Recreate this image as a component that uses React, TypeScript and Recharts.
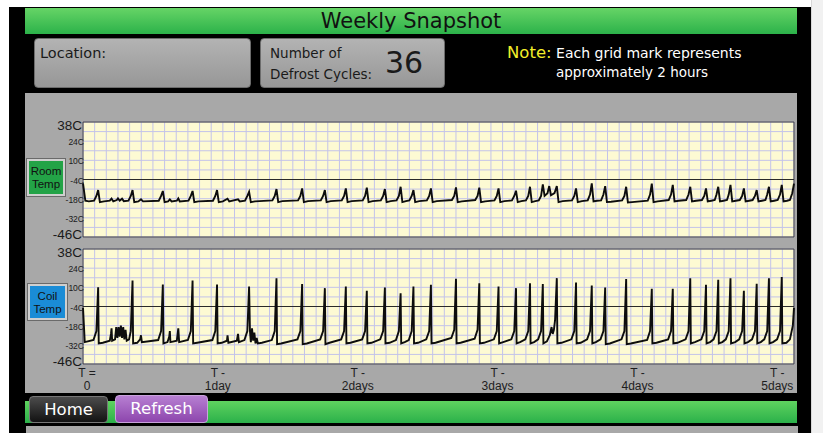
import { LineChart, Line, XAxis, YAxis, CartesianGrid, ReferenceLine, ReferenceArea } from "recharts"

// x = hours back from now (each grid mark is 2 hours), y = degrees C
const hourTicks = Array.from({ length: 62 }, (_, i) => i * 2)
const dayTicks = [0, 24, 48, 72, 96, 120]
const dayTop = ["T =", "T -", "T -", "T -", "T -", "T -"]
const dayLabels = ["0", "1day", "2days", "3days", "4days", "5days"]

const tempTicks = [38, 31, 24, 17, 10, 3, -4, -11, -18, -25, -32, -39, -46]
const tempLabels = [38, 24, 10, -4, -18, -32, -46]

const roomTrace: [number, number][] = [
  [0, -6.8], [0.4, -19.5], [1.0, -20],
  [1.9, -19.5], [2.3, -16], [2.6, -11.7], [2.9, -20.5], [3.6, -20],
  [4.6, -19.5], [4.9, -18], [5.2, -20],
  [5.8, -19], [6.0, -17.8], [6.3, -19.5], [6.7, -18], [7.0, -19.8],
  [7.8, -19.5], [8.2, -16], [8.5, -11.7], [8.8, -20.5], [9.5, -20],
  [9.95, -18.5], [10.3, -20],
  [13.0, -19.5], [13.4, -16], [13.7, -12.4], [14.0, -20.5], [14.6, -20],
  [14.9, -18.5], [15.2, -20],
  [16.1, -19.5], [16.35, -17.8], [16.6, -20],
  [18.1, -19.5], [18.5, -16], [18.8, -12.4], [19.1, -20.5], [19.8, -20],
  [22.3, -19.5], [22.7, -16], [23.0, -11.7], [23.3, -20.5], [24.0, -20],
  [24.8, -18], [25.1, -20],
  [26.6, -18.5], [26.9, -20],
  [27.8, -19.5], [28.2, -16], [28.5, -13], [28.8, -20.5], [29.5, -20],
  [32.5, -19.3], [32.9, -16], [33.2, -11], [33.5, -20.5], [34.2, -19.8],
  [36.9, -19.3], [37.3, -16], [37.6, -10.5], [37.9, -20.5], [38.6, -19.8],
  [40.8, -19.3], [41.2, -16], [41.5, -11.7], [41.8, -20.5], [42.5, -19.8],
  [44.4, -19.3], [44.8, -16], [45.1, -10.5], [45.4, -20.5], [46.1, -19.8],
  [48.0, -19.3], [48.4, -16], [48.7, -10], [49.0, -20.5], [49.7, -19.8],
  [51.1, -19.3], [51.5, -16], [51.8, -11], [52.1, -20.5], [52.8, -19.8],
  [53.8, -19.3], [54.2, -16], [54.5, -9.3], [54.8, -20.5], [55.4, -19.8],
  [56.0, -19.3], [56.4, -16], [56.7, -11.7], [57.0, -20.5], [57.7, -19.8],
  [59.0, -19.3], [59.4, -16], [59.7, -10.5], [60.0, -20.5], [60.7, -19.8],
  [63.3, -19], [63.7, -16], [64.0, -9.8], [64.3, -20.5], [65.0, -20],
  [67.3, -19], [67.7, -16], [68.0, -10], [68.3, -20.5], [69.0, -20],
  [70.6, -19.3], [71.0, -16], [71.3, -10.5], [71.6, -20.5], [72.3, -19.8],
  [73.6, -19.3], [74.0, -16], [74.3, -12.2], [74.6, -20.5], [75.2, -19.8],
  [76.0, -19.3], [76.4, -16], [76.7, -9.3], [77.0, -20.5], [77.6, -19.8],
  [78.2, -19.3], [78.6, -16], [78.9, -7.5], [79.2, -16],
  [79.7, -14], [80.0, -8.8], [80.3, -15.5],
  [80.9, -14], [81.3, -8.8], [81.6, -20.5], [82.3, -19.8],
  [83.9, -19.3], [84.3, -16], [84.6, -10.5], [84.9, -20.5], [85.6, -19.8],
  [86.6, -19.3], [87.0, -15], [87.3, -6.8], [87.6, -20], [88.2, -19.5],
  [88.9, -19.3], [89.3, -15], [89.6, -8.8], [89.9, -20.5], [90.6, -20.3],
  [92.5, -19.3], [92.9, -16], [93.2, -9.3], [93.5, -20.8], [94.2, -20.5],
  [96.9, -19.5], [97.3, -15], [97.6, -7], [97.9, -20.5], [98.6, -20],
  [100.5, -19], [100.9, -15], [101.2, -7.9], [101.5, -20], [102.2, -19.5],
  [103.5, -19], [103.9, -15], [104.2, -9.3], [104.5, -20], [105.2, -19.5],
  [106.2, -19], [106.6, -16], [106.9, -10.5], [107.2, -20], [107.8, -19.5],
  [108.4, -19], [108.7, -15], [109.0, -9.3], [109.3, -20], [109.9, -19.5],
  [110.5, -19], [110.8, -15], [111.1, -7.9], [111.4, -20], [112.0, -19.5],
  [112.7, -19], [113.1, -16], [113.4, -10.5], [113.7, -20], [114.3, -19.5],
  [114.9, -19], [115.3, -16], [115.6, -11.7], [115.9, -20], [116.5, -19.5],
  [117.1, -19], [117.4, -15], [117.7, -9.3], [118.0, -20], [118.6, -19.5],
  [119.2, -19], [119.6, -15], [119.9, -7.9], [120.2, -20], [120.8, -19.5],
  [121.3, -19], [121.7, -14], [122, -7],
]

const coilTrace: [number, number][] = [
  [0, -5], [0.3, -30], [1.8, -28.5], [2.3, -22], [2.6, 10], [2.7, -31], [3.4, -30.5],
  [4.6, -29], [4.8, -24], [4.9, -20], [5.0, -29], [5.5, -28],
  [5.7, -19], [5.9, -27], [6.1, -19], [6.3, -26], [6.5, -18], [6.7, -27], [6.9, -19], [7.1, -28], [7.3, -21], [7.5, -29],
  [7.9, -28], [8.2, -22], [8.5, 15], [8.6, -31], [9.3, -30.5],
  [9.8, -28], [9.95, -25], [10.1, -30],
  [12.9, -28.5], [13.4, -22], [13.7, 12], [13.8, -31], [14.5, -30],
  [14.8, -26], [14.9, -22], [15.0, -30],
  [16.1, -29], [16.35, -20], [16.5, -30],
  [18.0, -28.5], [18.5, -22], [18.8, 15], [18.9, -31], [19.6, -30.5],
  [22.2, -28.5], [22.7, -22], [23.0, 12], [23.1, -31], [23.8, -30.5],
  [24.7, -29], [24.8, -25], [24.95, -30.5],
  [26.4, -29], [26.6, -24], [26.75, -30],
  [27.7, -28.5], [28.2, -22], [28.5, 10.6], [28.65, -22], [28.8, -30], [29.0, -20], [29.2, -29], [29.4, -23], [29.6, -31], [29.8, -27], [30.0, -31], [30.7, -30.5],
  [32.4, -28.5], [32.9, -22], [33.2, 16.7], [33.3, -31.5], [34.0, -31],
  [36.8, -28], [37.3, -22], [37.6, 12.4], [37.7, -31.5], [38.4, -31],
  [40.7, -28], [41.2, -22], [41.5, 9.4], [41.6, -31.5], [42.3, -30.5],
  [44.3, -28], [44.8, -22], [45.1, 10.6], [45.2, -31], [45.9, -30.5],
  [47.9, -28], [48.4, -22], [48.7, 7.5], [48.8, -31], [49.5, -30.5],
  [51.0, -28], [51.5, -22], [51.8, 9.9], [51.9, -31], [52.6, -30.5],
  [53.7, -28.5], [54.2, -22], [54.5, 5.7], [54.6, -31], [55.2, -30],
  [55.9, -28.5], [56.4, -22], [56.7, 10.6], [56.8, -31], [57.5, -30.5],
  [58.9, -28], [59.4, -22], [59.7, 11.8], [59.8, -31], [60.5, -30.5],
  [63.2, -27], [63.7, -21], [64.0, 16.2], [64.1, -31], [64.8, -30.5],
  [67.2, -27.5], [67.7, -21], [68.0, 13], [68.1, -31], [68.8, -30.5],
  [70.5, -28], [71.0, -22], [71.3, 10.6], [71.4, -31], [72.1, -30],
  [73.5, -28], [74.0, -22], [74.3, 9.4], [74.4, -31], [75.0, -30],
  [75.9, -28], [76.4, -22], [76.7, 13], [76.8, -31], [77.4, -30],
  [78.1, -28], [78.6, -22], [78.9, 12.4], [79.0, -31], [79.6, -29.5],
  [80.1, -25], [80.4, -19], [80.6, -24], [80.8, -21], [81.0, -14], [81.3, 16.7], [81.4, -31], [82.1, -30.5],
  [83.8, -28], [84.3, -22], [84.6, 13.5], [84.7, -31], [85.4, -30.5],
  [86.5, -28], [87.0, -22], [87.3, 11.3], [87.4, -31], [88.0, -30],
  [88.8, -28], [89.3, -22], [89.6, 9.9], [89.7, -31.5], [90.4, -31],
  [92.4, -28], [92.9, -22], [93.2, 16], [93.3, -31.5], [94.0, -31],
  [96.8, -28.5], [97.3, -22], [97.6, 8.9], [97.7, -31], [98.4, -30.5],
  [100.4, -28], [100.9, -22], [101.2, 8.9], [101.3, -31], [102.0, -30.5],
  [103.4, -28], [103.9, -22], [104.2, 16.7], [104.3, -31], [105.0, -30],
  [106.1, -28], [106.6, -22], [106.9, 11.8], [107.0, -31], [107.6, -30],
  [108.2, -28], [108.7, -22], [109.0, 15.5], [109.1, -31], [109.7, -30],
  [110.3, -28], [110.8, -22], [111.1, 16.7], [111.2, -31], [111.9, -30],
  [112.6, -28], [113.1, -22], [113.4, 7.5], [113.5, -31], [114.1, -30],
  [114.8, -28], [115.3, -22], [115.6, 12.6], [115.7, -31], [116.3, -30],
  [116.9, -28], [117.4, -22], [117.7, 16.7], [117.8, -31], [118.4, -30],
  [119.1, -28], [119.6, -22], [119.9, 17.5], [120.0, -31], [120.7, -30.5],
  [121.3, -28], [121.8, -18], [122, -5],
]

const roomData = roomTrace.map(([t, v]) => ({ t, v }))
const coilData = coilTrace.map(([t, v]) => ({ t, v }))

const ui = "'DejaVu Sans', 'Liberation Sans', sans-serif"
const plain = "'Liberation Sans', Arial, sans-serif"

function TempTick({ x, y, payload }: any) {
  const v = payload.value
  if (!tempLabels.includes(v)) return <g />
  const big = v === 38 || v === -46
  const dy = v === 38 ? 3 : v === -46 ? -3 : 1
  return (
    <text x={big ? x - 1 : x + 1} y={y + dy} textAnchor="end" dominantBaseline="central"
      fontFamily={plain} fontSize={big ? 13.5 : 8.5} fill="#1a1a1a">
      {v}C
    </text>
  )
}

function DayTick({ x, y, payload }: any) {
  const i = dayTicks.indexOf(payload.value)
  if (i < 0) return <g />
  const dx = i === 0 ? 4 : -5
  return (
    <g fontFamily={plain} fontSize={12} fill="#1e1e1e">
      <text x={x + dx} y={y + 5} textAnchor="middle">{dayTop[i]}</text>
      <text x={x + dx} y={y + 18} textAnchor="middle">{dayLabels[i]}</text>
    </g>
  )
}

function Trace({ data, height, withDays }: { data: { t: number; v: number }[]; height: number; withDays: boolean }) {
  return (
    <LineChart width={823} height={height} data={data} margin={{ top: 10, right: 29, bottom: withDays ? 0 : 10, left: 33 }}>
      <CartesianGrid stroke="#c3c3ea" fill="#fdfad3" fillOpacity={1} />
      <XAxis dataKey="t" type="number" domain={[0, 122]} ticks={hourTicks} interval={0}
        hide={!withDays} height={35} axisLine={false} tickLine={false} tickSize={6} tickMargin={2} tick={<DayTick />} />
      <YAxis type="number" domain={[-46, 38]} ticks={tempTicks} interval={0} width={50}
        axisLine={false} tickLine={false} tickSize={0} tickMargin={0} tick={<TempTick />} allowDataOverflow />
      <ReferenceLine y={-4} stroke="#2a2a2a" strokeWidth={1.2} />
      <ReferenceArea x1={0} x2={122} y1={-46} y2={38} fill="none" fillOpacity={0} stroke="#3a3a3a" strokeWidth={1} />
      <Line dataKey="v" type="linear" stroke="#0d0d0d" strokeWidth={1.9} dot={false} isAnimationActive={false} />
    </LineChart>
  )
}

const grayBox = {
  position: "absolute" as const,
  background: "linear-gradient(#b3b3b3, #979797)",
  border: "1px solid #6c6c6c",
  borderRadius: 4,
  boxSizing: "border-box" as const,
}

export default function App() {
  return (
    <div style={{ position: "absolute", left: 0, top: 0, width: 823, height: 433, background: "#fff", overflow: "hidden", fontFamily: ui }}>
      <div style={{ position: "absolute", left: 9, top: 7, width: 802, height: 426, background: "#000" }} />
      <div style={{ position: "absolute", left: 811, top: 0, width: 12, height: 433, background: "#f1f1f1", borderLeft: "1px solid #d8d8d8" }} />

      {/* title */}
      <div style={{ position: "absolute", left: 25, top: 8, width: 772, height: 26, background: "linear-gradient(#66d466, #2cb24a)",
        textAlign: "center", fontSize: 21, lineHeight: "26px", color: "#111" }}>
        Weekly Snapshot
      </div>

      <div style={{ ...grayBox, left: 34, top: 38, width: 217, height: 50 }}>
        <div style={{ position: "absolute", left: 5, top: 6, fontSize: 14.5, color: "#1a1a1a" }}>Location:</div>
      </div>
      <div style={{ ...grayBox, left: 260, top: 38, width: 185, height: 50 }}>
        <div style={{ position: "absolute", left: 9, top: 6, fontSize: 13.5, color: "#1a1a1a" }}>Number of</div>
        <div style={{ position: "absolute", left: 9, top: 27, fontSize: 13.5, color: "#1a1a1a" }}>Defrost Cycles:</div>
        <div style={{ position: "absolute", left: 124, top: 6, fontSize: 30, color: "#1a1a1a" }}>36</div>
      </div>
      <div style={{ position: "absolute", left: 507, top: 43, fontSize: 14, color: "#fff", whiteSpace: "nowrap" }}>
        <span style={{ color: "#f2ee2a", fontSize: 16.5 }}>Note:</span> Each grid mark represents
      </div>
      <div style={{ position: "absolute", left: 556, top: 64, fontSize: 13.5, color: "#fff", whiteSpace: "nowrap" }}>
        approximately 2 hours
      </div>

      {/* chart panel */}
      <div style={{ position: "absolute", left: 25, top: 93, width: 772, height: 300, background: "#a8a8a8" }} />
      <div style={{ position: "absolute", left: 0, top: 112 }}>
        <Trace data={roomData} height={135} withDays={false} />
      </div>
      <div style={{ position: "absolute", left: 0, top: 239 }}>
        <Trace data={coilData} height={160} withDays={true} />
      </div>

      <div style={{ position: "absolute", left: 27, top: 159, width: 38, height: 37, background: "#23a347", border: "2px solid #cfcfcf",
        boxShadow: "0 0 0 1px #6a6a6a", boxSizing: "border-box", fontFamily: plain, fontSize: 11.5, lineHeight: "13px", textAlign: "center",
        paddingTop: 4, color: "#111" }}>
        Room<br />Temp
      </div>
      <div style={{ position: "absolute", left: 28, top: 284, width: 39, height: 36, background: "#1a8cd6", border: "2px solid #cfcfcf",
        boxShadow: "0 0 0 1px #6a6a6a", boxSizing: "border-box", fontFamily: plain, fontSize: 11.5, lineHeight: "13px", textAlign: "center",
        paddingTop: 4, color: "#111" }}>
        Coil<br />Temp
      </div>

      {/* bottom bar */}
      <div style={{ position: "absolute", left: 25, top: 401, width: 772, height: 22, background: "linear-gradient(#5fd25f, #2bb14a)" }} />
      <div style={{ position: "absolute", left: 29, top: 396, width: 79, height: 27, background: "linear-gradient(#4c4c4c, #121212)",
        border: "1px solid #777", borderRadius: 4, boxSizing: "border-box", color: "#fff", fontSize: 16.5, lineHeight: "25px", textAlign: "center" }}>
        Home
      </div>
      <div style={{ position: "absolute", left: 115, top: 395, width: 93, height: 28, background: "linear-gradient(#b77fd2, #8d46ad)",
        border: "1px solid #c9a3dc", borderRadius: 4, boxSizing: "border-box", color: "#fff", fontSize: 16.5, lineHeight: "26px", textAlign: "center" }}>
        Refresh
      </div>
      <div style={{ position: "absolute", left: 26, top: 426, width: 772, height: 7, background: "#a8a8a8" }} />
    </div>
  )
}
